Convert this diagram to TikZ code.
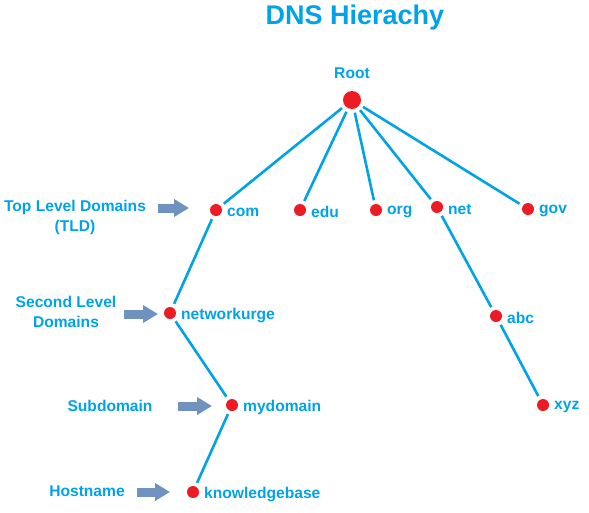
\documentclass[tikz,border=0pt]{standalone}
\usepackage{fontspec}
\setmainfont{Liberation Sans}
\usetikzlibrary{arrows.meta}
\definecolor{dnsblue}{RGB}{0,162,232}
\definecolor{dnsred}{RGB}{237,28,36}
\definecolor{pointgrey}{RGB}{112,146,190}

\begin{document}
\begin{tikzpicture}[x=1pt, y=-1pt, text=dnsblue,
			font=\bfseries\fontsize{15.6}{20}\selectfont,
			dot/.style={circle, fill=dnsred, inner sep=0pt, minimum size=12pt, outer sep=4pt},
			tag/.style={label={[inner sep=1pt, label distance=0pt, yshift=-2pt]right:#1}},
			link/.style={draw=dnsblue, line width=2.6pt},
			pointer/.style={draw=pointgrey, line width=9pt, -{Triangle[length=15pt, width=17pt]}}]
			\useasboundingbox (0,0) rectangle (589,512);
			\node (title) at (355,18) {\fontsize{27}{30}\selectfont DNS Hierachy};
			% tree
			\node[dot, minimum size=18pt, label={[label distance=5pt]above:Root}] (root) at (352,100) {};
			\node[dot, tag=com] (com) at (216,210) {};
			\node[dot, tag=edu] (edu) at (300,210) {};
			\node[dot, tag=org] (org) at (376,210) {};
			\node[dot, tag=net] (net) at (437,207) {};
			\node[dot, tag=gov] (gov) at (528,209) {};
			\node[dot, tag=networkurge] (sld) at (170,313) {};
			\node[dot, tag=abc] (abc) at (496,316) {};
			\node[dot, tag=mydomain] (sub) at (232,405) {};
			\node[dot, tag=xyz] (xyz) at (543,405) {};
			\node[dot, tag=knowledgebase] (host) at (193,492) {};
			\foreach \t in {com,edu,org,net,gov}
				\draw[link] (root) -- (\t);
			\draw[link] (com) -- (sld) -- (sub) -- (host);
			\draw[link] (net) -- (abc) -- (xyz);
			% levels
			\node[align=center] (tld) at (75,217) {Top Level Domains\\(TLD)};
			\node[align=center] (second) at (66,312) {Second Level\\Domains};
			\node (subname) at (110,406) {Subdomain};
			\node (hostname) at (87,491) {Hostname};
			\coordinate (p1) at (158,208); \coordinate (q1) at (189,208);
			\coordinate (p2) at (124,314); \coordinate (q2) at (158,314);
			\coordinate (p3) at (178,406); \coordinate (q3) at (212,406);
			\coordinate (p4) at (137,492); \coordinate (q4) at (170,492);
			\foreach \i in {1,...,4}
				\draw[pointer] (p\i) -- (q\i);
		\end{tikzpicture}
\end{document}
